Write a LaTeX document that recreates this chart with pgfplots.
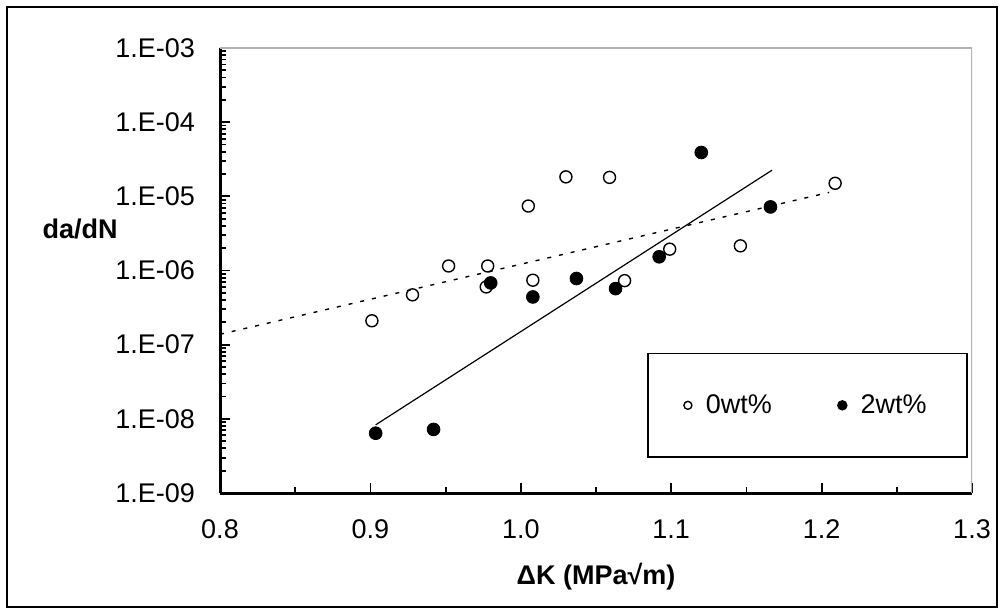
\documentclass[border=0pt]{standalone}
\usepackage{pgfplots}
\pgfplotsset{compat=1.18}
\usepackage{fontspec}
\setmainfont{Liberation Sans}
\begin{document}
\begin{tikzpicture}[x=1pt,y=1pt]
\path (0,0) rectangle (502.5,307);
\draw[line width=0.9pt] (3.5,3.5) rectangle (498.5,303.5);
\begin{axis}[
  at={(110pt,60.5pt)}, anchor=south west,
  width=376pt, height=222.5pt, scale only axis,
  xmin=0.8, xmax=1.3, ymode=log, ymin=1e-9, ymax=1e-3,
  axis x line*=bottom, axis y line*=left,
  axis line style={line width=1.5pt, -},
  tick align=inside,
  xtick={0.8,0.9,1.0,1.1,1.2,1.3},
  xticklabels={0.8,0.9,1.0,1.1,1.2,1.3},
  minor xtick={0.85,0.95,1.05,1.15,1.25},
  ytick={1e-9,1e-8,1e-7,1e-6,1e-5,1e-4,1e-3},
  yticklabels={1.E-09,1.E-08,1.E-07,1.E-06,1.E-05,1.E-04,1.E-03},
  extra y ticks={2e-9,3e-9,4e-9,5e-9,6e-9,7e-9,8e-9,9e-9,
               2e-8,3e-8,4e-8,5e-8,6e-8,7e-8,8e-8,9e-8,
               2e-7,3e-7,4e-7,5e-7,6e-7,7e-7,8e-7,9e-7,
               2e-6,3e-6,4e-6,5e-6,6e-6,7e-6,8e-6,9e-6,
               2e-5,3e-5,4e-5,5e-5,6e-5,7e-5,8e-5,9e-5,
               2e-4,3e-4,4e-4,5e-4,6e-4,7e-4,8e-4,9e-4},
  extra y tick labels={},
  extra y tick style={major tick length=3.2pt},
  major tick length=4.8pt, minor tick length=3pt,
  every tick/.style={black, line width=0.9pt},
  tick label style={font=\fontsize{13.5}{15}\selectfont},
  yticklabel style={xshift=-9pt},
  xticklabel style={yshift=-10pt},
  xlabel={\textbf{ΔK (MPa√m)}},
  ylabel={\textbf{da/dN}},
  label style={font=\fontsize{13.5}{15}\selectfont},
  xlabel style={at={(axis description cs:0.5,-0.189)}, anchor=center},
  ylabel style={rotate=-90, at={(axis description cs:-0.186,0.593)}, anchor=center},
  legend columns=2,
  legend style={at={(axis description cs:0.781,0.197)}, anchor=center,
    draw=black, line width=0.8pt, inner xsep=18pt, inner ysep=18.5pt,
    font=\fontsize{13.5}{15}\selectfont,
    /tikz/every even column/.append style={column sep=31pt}},
]
\draw[gray!60, line width=0.6pt] (rel axis cs:0,1) -- (rel axis cs:1,1) -- (rel axis cs:1,0);
\addplot[only marks, mark=o, mark size=3pt, black, mark options={line width=0.7pt},
  legend image post style={mark size=2pt}] coordinates {
(0.901,2.1e-7)
(0.928,4.7e-7)
(0.952,1.15e-6)
(0.977,6.0e-7)
(0.978,1.15e-6)
(1.005,7.4e-6)
(1.008,7.4e-7)
(1.030,1.83e-5)
(1.059,1.8e-5)
(1.069,7.3e-7)
(1.099,1.94e-6)
(1.146,2.15e-6)
(1.209,1.5e-5)
};
\addlegendentry{\hspace{5pt}0wt\%}
\addplot[only marks, mark=*, mark size=3.2pt, black,
  legend image post style={mark size=2.2pt}] coordinates {
(0.9035,6.4e-9)
(0.942,7.2e-9)
(0.980,6.8e-7)
(1.008,4.4e-7)
(1.037,7.8e-7)
(1.063,5.7e-7)
(1.092,1.53e-6)
(1.120,3.9e-5)
(1.166,7.2e-6)
};
\addlegendentry{\hspace{5pt}2wt\%}
\addplot[black, line width=0.7pt, dash pattern=on 2pt off 4pt, forget plot] coordinates {(0.8,1.38e-7) (1.205,1.13e-5)};
\addplot[black, line width=0.6pt, forget plot] coordinates {(0.9035,8.3e-9) (1.167,2.25e-5)};
\end{axis}
\end{tikzpicture}
\end{document}
